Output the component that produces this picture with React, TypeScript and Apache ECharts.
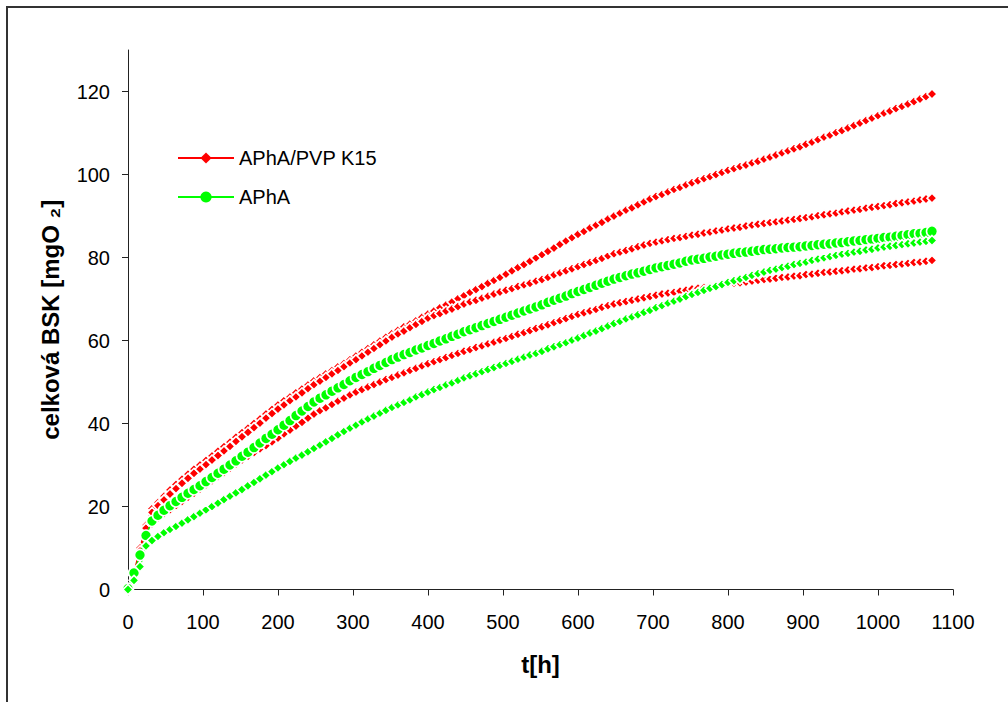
import React, { useEffect, useRef } from "react";
import * as echarts from "echarts";

// time of each reading [h]
const HOURS = [
  0, 8, 16, 24, 32, 40, 48, 56, 64, 72, 80, 88, 96, 104, 112, 120, 128, 136, 144, 152, 160, 168, 176, 184, 192, 200,
  208, 216, 224, 232, 240, 248, 256, 264, 272, 280, 288, 296, 304, 312, 320, 328, 336, 344, 352, 360, 368, 376, 384, 392, 400,
  408, 416, 424, 432, 440, 448, 456, 464, 472, 480, 488, 496, 504, 512, 520, 528, 536, 544, 552, 560, 568, 576, 584, 592, 600,
  608, 616, 624, 632, 640, 648, 656, 664, 672, 680, 688, 696, 704, 712, 720, 728, 736, 744, 752, 760, 768, 776, 784, 792, 800,
  808, 816, 824, 832, 840, 848, 856, 864, 872, 880, 888, 896, 904, 912, 920, 928, 936, 944, 952, 960, 968, 976, 984, 992, 1000,
  1008, 1016, 1024, 1032, 1040, 1048, 1056, 1064, 1072,
];

// APhA/PVP K15 – three replicates (red)
const PVP_1 = [
  0, 4, 10, 15.5, 19.5, 21, 22.5, 24, 25.3, 26.6, 27.8, 29, 30,
  31.1, 32.2, 33.3, 34.4, 35.5, 36.7, 37.8, 38.9, 40.0, 41.1, 42.3, 43.4, 44.5,
  45.5, 46.4, 47.4, 48.3, 49.3, 50.3,
  51.1, 52.0, 52.8, 53.7, 54.5, 55.4,
  56.3, 57.2, 58.1, 59.0, 59.9, 60.8,
  61.7, 62.5, 63.3, 64.0, 64.8, 65.6, 66.4,
  67.1, 67.9, 68.6, 69.3, 70.1, 70.8,
  71.6, 72.3, 73.0, 73.8, 74.5, 75.2,
  76.0, 76.8, 77.6, 78.3, 79.1, 79.9,
  80.7, 81.5, 82.3, 83.2, 84.0, 84.8, 85.6,
  86.3, 87.1, 87.8, 88.5, 89.3, 90.0,
  90.7, 91.4, 92.0, 92.7, 93.4, 94.1,
  94.7, 95.2, 95.8, 96.4, 96.9, 97.5,
  98.0, 98.5, 99.0, 99.5, 100.0, 100.5, 101.0,
  101.4, 101.9, 102.3, 102.8, 103.2, 103.7,
  104.2, 104.7, 105.2, 105.7, 106.2, 106.7,
  107.3, 107.8, 108.4, 109.0, 109.5, 110.1,
  110.6, 111.2, 111.8, 112.4, 113.0, 113.6, 114.2,
  114.8, 115.3, 115.9, 116.4, 117.0, 117.6,
  118.2, 118.8, 119.4,
];
const PVP_2 = [
  0, 3.5, 9.3, 14.8, 18.6, 20.2, 21.6, 23.0, 24.3, 25.6, 26.8, 28.0, 29.0,
  30.1, 31.2, 32.3, 33.4, 34.5, 35.7, 36.8, 37.9, 39.0, 40.1, 41.3, 42.4, 43.5,
  44.5, 45.5, 46.4, 47.4, 48.4, 49.4,
  50.2, 51.1, 52.0, 52.8, 53.7, 54.6,
  55.4, 56.3, 57.2, 58.1, 59.0, 59.9,
  60.8, 61.6, 62.3, 63.1, 63.9, 64.6, 65.4,
  66.0, 66.5, 67.1, 67.6, 68.2, 68.8,
  69.3, 69.7, 70.2, 70.7, 71.2, 71.7,
  72.1, 72.5, 73.0, 73.4, 73.8, 74.3,
  74.7, 75.2, 75.8, 76.3, 76.8, 77.3, 77.8,
  78.3, 78.8, 79.3, 79.8, 80.4, 80.9,
  81.3, 81.7, 82.1, 82.6, 83.0, 83.4,
  83.7, 84.0, 84.3, 84.6, 84.8, 85.1,
  85.4, 85.6, 85.9, 86.1, 86.4, 86.6, 86.9,
  87.1, 87.3, 87.6, 87.8, 88.0, 88.2,
  88.4, 88.6, 88.8, 89.0, 89.2, 89.4,
  89.6, 89.8, 90.1, 90.3, 90.5, 90.7,
  91.0, 91.2, 91.4, 91.6, 91.9, 92.1, 92.3,
  92.5, 92.7, 93.0, 93.2, 93.4, 93.6,
  93.9, 94.1, 94.3,
];
const PVP_3 = [
  0, 3.5, 8.5, 13.0, 15.8, 17.2, 18.3, 19.2, 20.2, 21.2, 22.2, 23.2, 24.2,
  25.2, 26.2, 27.2, 28.2, 29.2, 30.2, 31.2, 32.1, 33.0, 33.9, 34.7, 35.6, 36.5,
  37.5, 38.4, 39.4, 40.3, 41.3, 42.3,
  43.1, 43.8, 44.6, 45.4, 46.1, 46.9,
  47.6, 48.2, 48.8, 49.4, 50.0, 50.6,
  51.1, 51.7, 52.2, 52.8, 53.3, 53.9, 54.4,
  54.9, 55.4, 55.9, 56.4, 56.9, 57.4,
  57.8, 58.3, 58.7, 59.2, 59.6, 60.1,
  60.5, 61.0, 61.5, 61.9, 62.4, 62.9,
  63.3, 63.8, 64.3, 64.8, 65.3, 65.8, 66.3,
  66.7, 67.1, 67.5, 68.0, 68.4, 68.8,
  69.1, 69.4, 69.7, 70.0, 70.3, 70.6,
  70.9, 71.2, 71.4, 71.6, 71.9, 72.1,
  72.4, 72.6, 72.8, 73.0, 73.2, 73.4, 73.6,
  73.8, 73.9, 74.1, 74.3, 74.5, 74.7,
  74.8, 75.0, 75.2, 75.3, 75.5, 75.6,
  75.9, 76.0, 76.2, 76.4, 76.5, 76.7,
  76.8, 77.0, 77.2, 77.3, 77.5, 77.6, 77.8,
  78.0, 78.1, 78.3, 78.4, 78.6, 78.8,
  78.9, 79.1, 79.3,
];

// APhA – two replicates (green)
const APHA_1 = [
  0.2, 4.0, 8.3, 13.0, 16.5, 17.9, 19.1, 20.2, 21.2, 22.2, 23.2, 24.1, 25.0,
  26.0, 27.0, 28.0, 29.0, 30.0, 31.0, 32.1, 33.1, 34.2, 35.3, 36.4, 37.4, 38.5,
  39.6, 40.7, 41.9, 43.0, 44.1, 45.2,
  46.1, 46.9, 47.8, 48.6, 49.4, 50.3,
  51.1, 51.8, 52.5, 53.3, 54.0, 54.7,
  55.4, 56.0, 56.6, 57.1, 57.7, 58.2, 58.8,
  59.3, 59.9, 60.4, 61.0, 61.5, 62.1,
  62.6, 63.1, 63.6, 64.1, 64.6, 65.1,
  65.6, 66.1, 66.6, 67.1, 67.6, 68.1,
  68.6, 69.2, 69.7, 70.2, 70.7, 71.3, 71.8,
  72.3, 72.8, 73.3, 73.8, 74.3, 74.8,
  75.2, 75.6, 76.0, 76.3, 76.7, 77.1,
  77.5, 77.8, 78.1, 78.4, 78.7, 79.1,
  79.4, 79.6, 79.8, 80.1, 80.3, 80.6, 80.8,
  81.0, 81.2, 81.3, 81.5, 81.7, 81.9,
  82.0, 82.1, 82.3, 82.4, 82.5, 82.6,
  82.8, 82.9, 83.1, 83.2, 83.3, 83.5,
  83.6, 83.8, 84.0, 84.1, 84.3, 84.4, 84.6,
  84.8, 84.9, 85.1, 85.3, 85.5, 85.7,
  85.8, 86.0, 86.3,
];
const APHA_2 = [
  0, 2.2, 5.5, 10.5, 11.8, 12.8, 13.7, 14.5, 15.2, 16.0, 16.8, 17.6, 18.4,
  19.2, 20.0, 20.8, 21.7, 22.5, 23.3, 24.1, 25.0, 25.8, 26.7, 27.6, 28.4, 29.3,
  30.1, 30.9, 31.7, 32.4, 33.2, 34.0,
  34.8, 35.6, 36.4, 37.3, 38.1, 38.9,
  39.6, 40.4, 41.1, 41.8, 42.5, 43.2,
  43.9, 44.5, 45.1, 45.7, 46.4, 47.0, 47.6,
  48.2, 48.7, 49.3, 49.8, 50.4, 51.0,
  51.5, 52.0, 52.5, 53.0, 53.5, 54.0,
  54.5, 55.0, 55.5, 56.0, 56.5, 56.9,
  57.4, 58.0, 58.5, 59.0, 59.5, 60.1, 60.6,
  61.2, 61.8, 62.3, 62.9, 63.5, 64.1,
  64.6, 65.2, 65.7, 66.2, 66.8, 67.3,
  67.9, 68.4, 69.0, 69.5, 70.0, 70.6,
  71.1, 71.6, 72.1, 72.6, 73.0, 73.5, 74.0,
  74.4, 74.8, 75.2, 75.7, 76.1, 76.5,
  76.9, 77.2, 77.6, 77.9, 78.3, 78.6,
  78.9, 79.3, 79.6, 79.9, 80.2, 80.5,
  80.8, 81.0, 81.3, 81.5, 81.8, 82.0, 82.3,
  82.5, 82.7, 82.9, 83.1, 83.3, 83.5,
  83.7, 83.9, 84.1,
];

const SERIES_NAMES = ["APhA/PVP K15", "APhA"];
const Y_TICKS = [0, 20, 40, 60, 80, 100, 120];
const X_TICKS = [0, 100, 200, 300, 400, 500, 600, 700, 800, 900, 1000, 1100];

const FONT = 'Arial, "Liberation Sans", Helvetica, sans-serif';

function pairs(vals: number[]) {
  const n = Math.min(vals.length, HOURS.length);
  const out: number[][] = [];
  for (let i = 0; i < n; i++) out.push([HOURS[i], vals[i]]);
  return out;
}

export default function App() {
  const ref = useRef<HTMLDivElement>(null);

  useEffect(() => {
    if (!ref.current) return;
    const chart = echarts.init(ref.current, null, { renderer: "svg" });
    const RED = "#FF0000";
    const GREEN = "#00FF00";

    const mk = (name: string, vals: number[], color: string, symbol: string, size: number, z: number) => ({
      type: "line",
      name,
      data: pairs(vals),
      symbol,
      symbolSize: size,
      showAllSymbol: true,
      clip: false,
      z,
      lineStyle: { color, width: 1.5 },
      itemStyle: { color, borderColor: "#ffffff", borderWidth: 1.6 },
      emphasis: { disabled: true },
    });

    const axisLineStyle = { color: "#222", width: 1 };

    chart.setOption({
      animation: false,
      backgroundColor: "#ffffff",
      textStyle: { fontFamily: FONT },
      grid: { left: 128, top: 50, width: 825, height: 539.5 },
      legend: {
        data: SERIES_NAMES,
        orient: "vertical",
        left: 177,
        top: 147,
        padding: 0,
        itemWidth: 56,
        itemHeight: 14,
        itemGap: 17,
        lineStyle: { width: 2 },
        itemStyle: { borderWidth: 0 },
        textStyle: { fontFamily: FONT, fontSize: 20, color: "#000", lineHeight: 22 },
        selectedMode: false,
      },
      xAxis: {
        type: "value",
        min: 0,
        max: 1100,
        interval: 100,
        name: "t[h]",
        nameLocation: "middle",
        nameGap: 63,
        nameTextStyle: { fontFamily: FONT, fontSize: 24, fontWeight: "bold", color: "#000" },
        axisLine: { show: true, onZero: false, lineStyle: axisLineStyle },
        axisTick: { show: true, length: 6, lineStyle: axisLineStyle, customValues: X_TICKS },
        axisLabel: {
          fontFamily: FONT,
          fontSize: 20,
          color: "#000",
          margin: 22,
          customValues: X_TICKS,
          formatter: (v: number) => String(v),
        },
        splitLine: { show: false },
      },
      yAxis: {
        type: "value",
        min: 0,
        max: 130,
        interval: 20,
        name: "celková BSK [mgO ₂]",
        nameLocation: "middle",
        nameGap: 66,
        nameTextStyle: { fontFamily: FONT, fontSize: 24, fontWeight: "bold", color: "#000" },
        axisLine: { show: true, onZero: false, lineStyle: axisLineStyle },
        axisTick: { show: true, length: 6, lineStyle: axisLineStyle, customValues: Y_TICKS },
        axisLabel: {
          fontFamily: FONT,
          fontSize: 20,
          color: "#000",
          margin: 18,
          customValues: Y_TICKS,
          formatter: (v: number) => String(v),
        },
        splitLine: { show: false },
      },
      graphic: [
        {
          type: "rect",
          silent: true,
          shape: { x: 7, y: 7, width: 1010, height: 710 },
          style: { fill: "none", stroke: "#333", lineWidth: 2 },
          z: 100,
        },
      ],
      series: [
        mk(SERIES_NAMES[0], PVP_1, RED, "diamond", 10, 2),
        mk(SERIES_NAMES[0], PVP_2, RED, "diamond", 10, 2),
        mk(SERIES_NAMES[0], PVP_3, RED, "diamond", 10, 2),
        mk(SERIES_NAMES[1], APHA_1, GREEN, "circle", 11, 3),
        mk(SERIES_NAMES[1], APHA_2, GREEN, "diamond", 10, 3),
      ],
    });

    return () => chart.dispose();
  }, []);

  return (
    <div style={{ position: "fixed", left: 0, top: 0, width: 1008, height: 702, background: "#fff" }}>
      <div ref={ref} style={{ width: 1008, height: 702 }} />
    </div>
  );
}
